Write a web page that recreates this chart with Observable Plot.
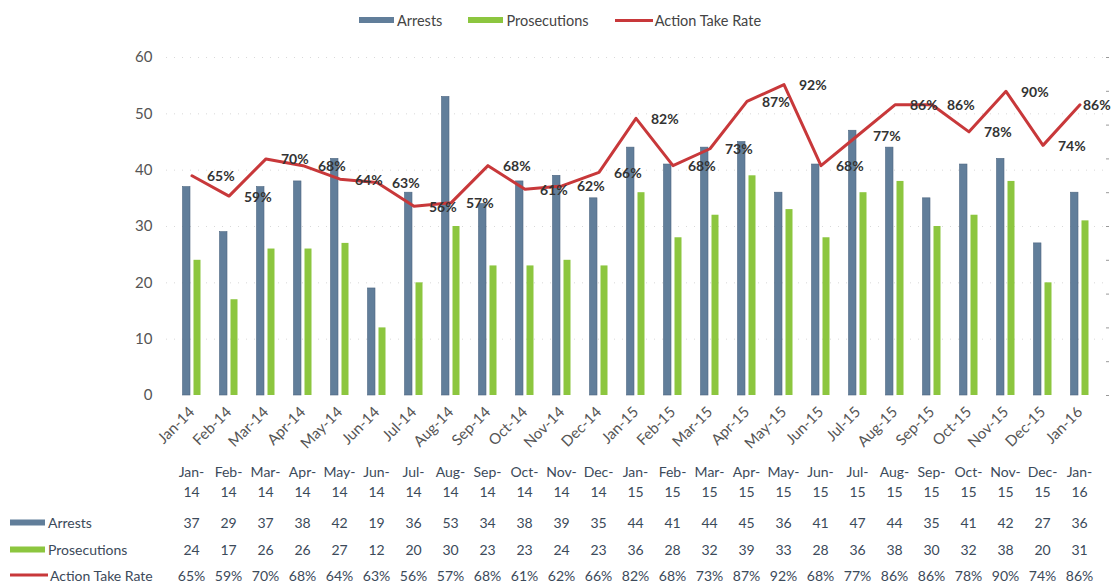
<!DOCTYPE html>
<html>
<head>
<meta charset="utf-8">
<script src="https://cdn.jsdelivr.net/npm/d3@7"></script>
<script src="https://cdn.jsdelivr.net/npm/@observablehq/plot@0.6"></script>
<style>
  body { margin: 0; background: #fff; font-family: Lato, "Open Sans", sans-serif; }
  #wrap { position: relative; width: 1120px; height: 583px; overflow: hidden; background: #fff; }
  #legend { position: absolute; top: 10px; left: 0; width: 1120px; height: 20px; display: flex; justify-content: center; align-items: center; font-size: 14.5px; color: #444; }
  .item { display: flex; align-items: center; margin: 0 13px; white-space: nowrap; }
  .sw { width: 35px; height: 6px; margin-right: 3px; }
  .ln { width: 38px; height: 3px; margin-right: 2px; }
  #chart { position: absolute; top: 40px; left: 0; }
  #table { position: absolute; top: 0; left: 0; width: 1120px; height: 583px; pointer-events: none; }
  .cell { position: absolute; transform: translate(-50%, -50%); font-size: 14px; color: #3c4a5a; white-space: nowrap; }
  .rowlab { position: absolute; transform: translateY(-50%); left: 10px; font-size: 14px; color: #3c4a5a; display: flex; align-items: center; white-space: nowrap; }
</style>
</head>
<body>
<div id="wrap">
  <div id="legend"></div>
  <div id="chart"></div>
  <div id="table"></div>
</div>
<script>
const months = ["Jan-14","Feb-14","Mar-14","Apr-14","May-14","Jun-14","Jul-14","Aug-14","Sep-14","Oct-14","Nov-14","Dec-14",
                "Jan-15","Feb-15","Mar-15","Apr-15","May-15","Jun-15","Jul-15","Aug-15","Sep-15","Oct-15","Nov-15","Dec-15","Jan-16"];
const arrests      = [37,29,37,38,42,19,36,53,34,38,39,35,44,41,44,45,36,41,47,44,35,41,42,27,36];
const prosecutions = [24,17,26,26,27,12,20,30,23,23,24,23,36,28,32,39,33,28,36,38,30,32,38,20,31];
const rates        = [65,59,70,68,64,63,56,57,68,61,62,66,82,68,73,87,92,68,77,86,86,78,90,74,86];
const seriesNames  = ["Arrests","Prosecutions","Action Take Rate"];
const yTicks       = [0,10,20,30,40,50,60];
const rateTicks    = [0,10,20,30,40,50,60,70,80,90,100];

const colors = { Arrests: "#617e9a", Prosecutions: "#8cc63f", "Action Take Rate": "#c8383a" };
// secondary axis: 0–100% maps onto 0–60 of the primary axis
const rateToY = r => r * 60 / 100;

const rows = months.map((m, i) => ({ month: m, arrests: arrests[i], prosecutions: prosecutions[i], rate: rates[i], last: i === months.length - 1 }));

const chart = Plot.plot({
  width: 1120,
  height: 415,
  marginLeft: 166,
  marginRight: 15,
  marginTop: 17,
  marginBottom: 60,
  style: { fontFamily: "Lato, 'Open Sans', sans-serif", background: "#fff", color: "#555" },
  x: { domain: months, padding: 0, label: null },
  y: { domain: [0, 60], label: null },
  marks: [
    Plot.gridY(yTicks.slice(1), { stroke: "#aaa", strokeOpacity: 0.45, strokeDasharray: "1,7" }),
    Plot.axisY(yTicks, { tickSize: 0, tickPadding: 14, fontSize: 15, fill: "#555", label: null }),
    Plot.axisY(rateTicks.map(rateToY), { anchor: "right", tickSize: 3, tickPadding: 0, stroke: "#999", tickFormat: () => "", label: null }),
    Plot.axisX({ tickRotate: -45, tickSize: 0, tickPadding: 14, fontSize: 15, fill: "#555", label: null }),
    Plot.barY(rows, { x: "month", y: "arrests", fill: colors.Arrests, stroke: "#4d6680", strokeWidth: 0.6, insetLeft: 9.5, insetRight: 20 }),
    Plot.barY(rows, { x: "month", y: "prosecutions", fill: colors.Prosecutions, insetLeft: 20.5, insetRight: 9.5 }),
    Plot.line(rows, { x: "month", y: d => rateToY(d.rate), stroke: colors["Action Take Rate"], strokeWidth: 3 }),
    Plot.text(rows.filter(d => !d.last), { x: "month", y: d => rateToY(d.rate), text: d => d.rate + "%", textAnchor: "start", dx: 15, dy: 1, fontWeight: "bold", fontSize: 14, fill: "#333" }),
    Plot.text(rows.filter(d => d.last), { x: "month", y: d => rateToY(d.rate), text: d => d.rate + "%", textAnchor: "start", dx: 3, dy: 1, fontWeight: "bold", fontSize: 14, fill: "#333" })
  ]
});
document.getElementById("chart").appendChild(chart);

// Legend
const legend = document.getElementById("legend");
seriesNames.forEach(name => {
  const it = document.createElement("div");
  it.className = "item";
  const sw = document.createElement("div");
  sw.className = name === "Action Take Rate" ? "ln" : "sw";
  sw.style.background = colors[name];
  it.appendChild(sw);
  const t = document.createElement("span");
  t.textContent = name;
  it.appendChild(t);
  legend.appendChild(it);
});

// Data table below the chart, columns aligned with the x bands
const xs = chart.scale("x");
const table = document.getElementById("table");
const rowY = { head1: 471, head2: 491, Arrests: 522, Prosecutions: 549, "Action Take Rate": 575 };
function cell(text, x, y) {
  const d = document.createElement("div");
  d.className = "cell";
  d.textContent = text;
  d.style.left = x + "px";
  d.style.top = y + "px";
  table.appendChild(d);
}
months.forEach((m, i) => {
  const cx = xs.apply(m) + xs.bandwidth / 2;
  const [mon, yr] = m.split("-");
  cell(mon + "-", cx, rowY.head1);
  cell(yr, cx, rowY.head2);
  cell(String(arrests[i]), cx, rowY.Arrests);
  cell(String(prosecutions[i]), cx, rowY.Prosecutions);
  cell(rates[i] + "%", cx, rowY["Action Take Rate"]);
});
seriesNames.forEach(name => {
  const r = document.createElement("div");
  r.className = "rowlab";
  r.style.top = rowY[name] + "px";
  const sw = document.createElement("div");
  sw.className = name === "Action Take Rate" ? "ln" : "sw";
  sw.style.background = colors[name];
  r.appendChild(sw);
  const t = document.createElement("span");
  t.textContent = name;
  r.appendChild(t);
  table.appendChild(r);
});
</script>
</body>
</html>
